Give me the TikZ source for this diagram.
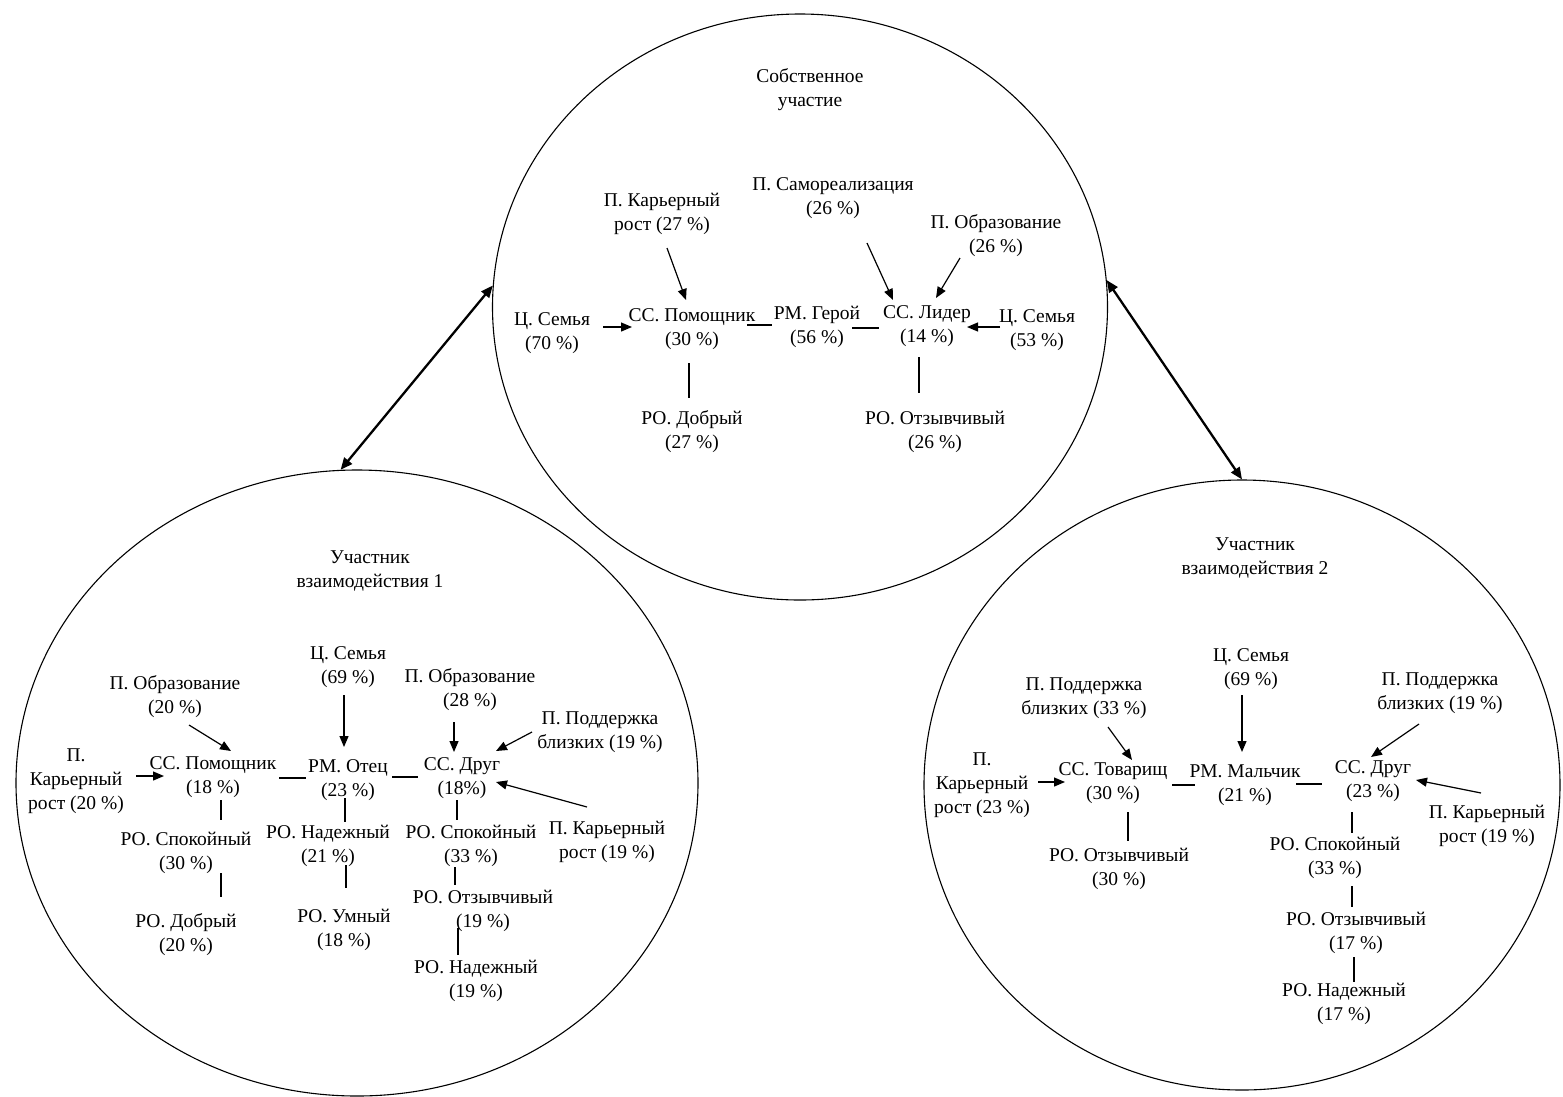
\documentclass[tikz,border=0pt]{standalone}
\usepackage{fontspec}
\setmainfont{Liberation Serif}
\usetikzlibrary{shapes.geometric,arrows.meta,calc}
\begin{document}
\begin{tikzpicture}[x=1pt,y=-1pt,
  lbl/.style={align=center, inner sep=1pt, font=\fontsize{19.5}{24}\selectfont},
  circ/.style={draw, ellipse, line width=1.1pt, inner sep=0pt},
  arr/.style={-{Triangle[length=11pt,width=9pt]}, line width=1.2pt},
  lnk/.style={line width=1.2pt},
  bi/.style={{Triangle[length=12pt,width=10pt]}-{Triangle[length=12pt,width=10pt]}, line width=2.3pt}]
\useasboundingbox (0,0) rectangle (1563,1096);
% ellipses
\node[circ, minimum width=615pt, minimum height=586pt] (E0) at (800,307) {};
\node[circ, minimum width=682pt, minimum height=626pt] (E1) at (357,783) {};
\node[circ, minimum width=636pt, minimum height=610pt] (E2) at (1242,785) {};
\draw[bi] (E1.93) -- (E0.176);
\draw[bi] (E0.5) -- (E2.north);
% ---------- top ellipse ----------
\node[lbl] (sob) at (810,90) {Собственное\\участие};
\node[lbl] (kar27) at (662,214) {П. Карьерный\\рост (27 \%)};
\node[lbl] (sam26) at (833,198) {П. Самореализация\\(26 \%)};
\node[lbl] (obr26) at (996,236) {П. Образование\\(26 \%)};
\node[lbl] (sem70) at (552,333) {Ц. Семья\\(70 \%)};
\node[lbl] (pom30) at (692,329) {СС. Помощник\\(30 \%)};
\node[lbl] (ger56) at (817,327) {РМ. Герой\\(56 \%)};
\node[lbl] (lid14) at (927,326) {СС. Лидер\\(14 \%)};
\node[lbl] (sem53) at (1037,330) {Ц. Семья\\(53 \%)};
\node[lbl] (dob27) at (692,432) {РО. Добрый\\(27 \%)};
\node[lbl] (otz26) at (935,432) {РО. Отзывчивый\\(26 \%)};
\draw[arr] ($(kar27)+(5,34)$) -- ($(pom30)+(-6,-29)$);
\draw[arr] ($(sam26)+(34,45)$) -- ($(lid14)+(-34,-26)$);
\draw[arr] ($(obr26)+(-36,22)$) -- ($(lid14)+(9,-28)$);
\draw[arr] ($(sem70)+(51,-6)$) -- ($(pom30)+(-60,-2)$);
\draw[arr] ($(sem53)+(-37,-3)$) -- ($(lid14)+(40,1)$);
\draw[lnk] ($(pom30)+(55,-4)$) -- ($(ger56)+(-45,-2)$);
\draw[lnk] ($(ger56)+(35,1)$) -- ($(lid14)+(-48,2)$);
\draw[lnk] ($(pom30)+(-3,34)$) -- ($(dob27)+(-3,-34)$);
\draw[lnk] ($(lid14)+(-8,31)$) -- ($(otz26)+(-16,-39)$);
% ---------- left ellipse ----------
\node[lbl] (uch1) at (370,571) {Участник\\взаимодействия 1};
\node[lbl] (sem69) at (348,667) {Ц. Семья\\(69 \%)};
\node[lbl] (obr20) at (175,697) {П. Образование\\(20 \%)};
\node[lbl] (obr28) at (470,690) {П. Образование\\(28 \%)};
\node[lbl] (pod19) at (600,732) {П. Поддержка\\близких (19 \%)};
\node[lbl] (kar20) at (76,781) {П.\\Карьерный\\рост (20 \%)};
\node[lbl] (pom18) at (213,777) {СС. Помощник\\(18 \%)};
\node[lbl] (otec) at (348,780) {РМ. Отец\\(23 \%)};
\node[lbl] (drug18) at (462,778) {СС. Друг\\(18\%)};
\node[lbl] (spo30) at (186,853) {РО. Спокойный\\(30 \%)};
\node[lbl] (nad21) at (328,846) {РО. Надежный\\(21 \%)};
\node[lbl] (spo33) at (471,846) {РО. Спокойный\\(33 \%)};
\node[lbl] (kar19) at (607,842) {П. Карьерный\\рост (19 \%)};
\node[lbl] (dob20) at (186,935) {РО. Добрый\\(20 \%)};
\node[lbl] (umn) at (344,930) {РО. Умный\\(18 \%)};
\node[lbl] (otz19) at (483,911) {РО. Отзывчивый\\(19 \%)};
\node[lbl] (nad19) at (476,981) {РО. Надежный\\(19 \%)};
\draw[arr] ($(obr20)+(14,28)$) -- ($(pom18)+(18,-26)$);
\draw[arr] ($(sem69)+(-4,28)$) -- ($(otec)+(-4,-33)$);
\draw[arr] ($(obr28)+(-16,32)$) -- ($(drug18)+(-8,-26)$);
\draw[arr] ($(pod19)+(-68,0)$) -- ($(drug18)+(34,-27)$);
\draw[arr] ($(kar20)+(60,-5)$) -- ($(pom18)+(-49,-1)$);
\draw[arr] ($(kar19)+(-20,-35)$) -- ($(drug18)+(34,4)$);
\draw[lnk] ($(pom18)+(66,1)$) -- ($(otec)+(-42,-2)$);
\draw[lnk] ($(otec)+(44,-3)$) -- ($(drug18)+(-44,-1)$);
\draw[lnk] ($(pom18)+(8,23)$) -- ($(spo30)+(35,-33)$);
\draw[lnk] ($(spo30)+(35,20)$) -- ($(dob20)+(35,-38)$);
\draw[lnk] ($(otec)+(-3,18)$) -- ($(nad21)+(17,-24)$);
\draw[lnk] ($(nad21)+(18,19)$) -- ($(umn)+(2,-42)$);
\draw[lnk] ($(drug18)+(-5,22)$) -- ($(spo33)+(-14,-26)$);
\draw[lnk] ($(spo33)+(-16,21)$) -- ($(otz19)+(-28,-26)$);
\draw[lnk] ($(otz19)+(-25,17)$) -- ($(nad19)+(-18,-26)$);
% ---------- right ellipse ----------
\node[lbl] (uch2) at (1255,558) {Участник\\взаимодействия 2};
\node[lbl] (sem69r) at (1251,669) {Ц. Семья\\(69 \%)};
\node[lbl] (pod33) at (1084,698) {П. Поддержка\\близких (33 \%)};
\node[lbl] (pod19r) at (1440,693) {П. Поддержка\\близких (19 \%)};
\node[lbl] (kar23) at (982,785) {П.\\Карьерный\\рост (23 \%)};
\node[lbl] (tov) at (1113,783) {СС. Товарищ\\(30 \%)};
\node[lbl] (mal) at (1245,785) {РМ. Мальчик\\(21 \%)};
\node[lbl] (drug23) at (1373,781) {СС. Друг\\(23 \%)};
\node[lbl] (kar19r) at (1487,826) {П. Карьерный\\рост (19 \%)};
\node[lbl] (otz30) at (1119,869) {РО. Отзывчивый\\(30 \%)};
\node[lbl] (spo33r) at (1335,858) {РО. Спокойный\\(33 \%)};
\node[lbl] (otz17) at (1356,933) {РО. Отзывчивый\\(17 \%)};
\node[lbl] (nad17) at (1344,1004) {РО. Надежный\\(17 \%)};
\draw[arr] ($(pod33)+(24,29)$) -- ($(tov)+(19,-23)$);
\draw[arr] ($(sem69r)+(-9,26)$) -- ($(mal)+(-3,-33)$);
\draw[arr] ($(pod19r)+(-21,31)$) -- ($(drug23)+(-2,-24)$);
\draw[arr] ($(kar23)+(56,-3)$) -- ($(tov)+(-48,-1)$);
\draw[arr] ($(kar19r)+(-6,-33)$) -- ($(drug23)+(43,-1)$);
\draw[lnk] ($(tov)+(59,2)$) -- ($(mal)+(-50,0)$);
\draw[lnk] ($(mal)+(51,-1)$) -- ($(drug23)+(-51,3)$);
\draw[lnk] ($(tov)+(15,29)$) -- ($(otz30)+(9,-28)$);
\draw[lnk] ($(drug23)+(-21,31)$) -- ($(spo33r)+(17,-25)$);
\draw[lnk] ($(spo33r)+(17,28)$) -- ($(otz17)+(-4,-26)$);
\draw[lnk] ($(otz17)+(-2,24)$) -- ($(nad17)+(10,-22)$);
\end{tikzpicture}
\end{document}
